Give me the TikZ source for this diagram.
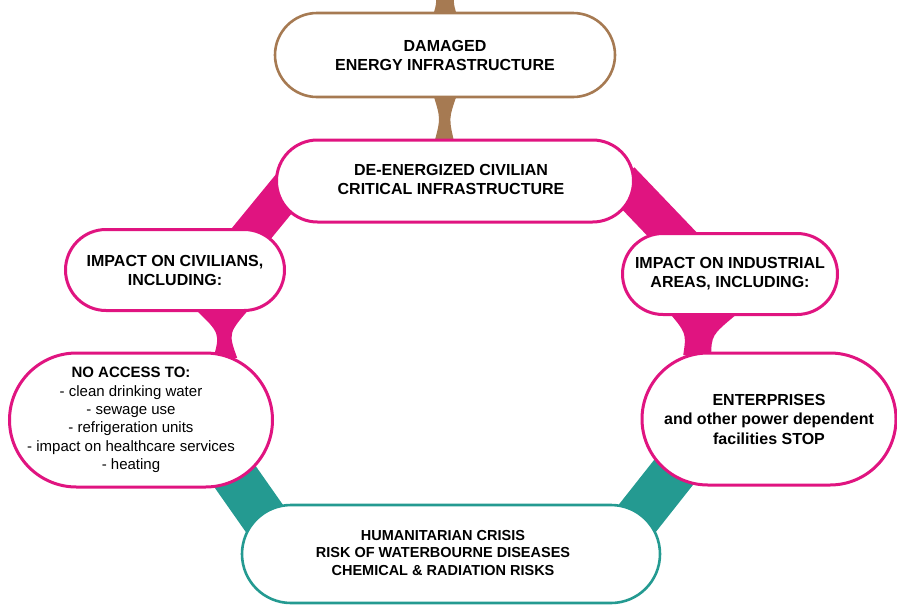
\documentclass[tikz,border=0pt]{standalone}
\usepackage{fontspec}
\setmainfont{Liberation Sans}
\usetikzlibrary{shapes.misc,calc,backgrounds}
\definecolor{pinkline}{RGB}{224,20,128}
\definecolor{brownline}{RGB}{166,122,82}
\definecolor{tealline}{RGB}{36,154,145}
% neck between two border points: colour, from, to, half widths at the ends, bend
\def\neck#1#2#3#4#5#6{%
  \path ($(#2)!-4pt!(#3)$) coordinate (na) ($(#3)!-4pt!(#2)$) coordinate (nb)
        ($(na)!.5!(nb)$) coordinate (nm);
  \fill[#1] ($(na)!#4!90:(nb)$) .. controls ($(nm)!#6!90:(nb)$) .. ($(nb)!#5!-90:(na)$)
     -- ($(nb)!#5!90:(na)$) .. controls ($(nm)!#6!-90:(nb)$) .. ($(na)!#4!-90:(nb)$) -- cycle;}
\tikzset{
  pill/.style={rounded rectangle, draw=pinkline, line width=3pt, fill=white,
    align=center, inner sep=0pt, font=\bfseries\fontsize{16}{19}\selectfont},
  brownpill/.style={pill, draw=brownline, line width=2.6pt},
  tealpill/.style={pill, draw=tealline, line width=2.6pt,
    font=\bfseries\fontsize{14.5}{17.5}\selectfont},
  band/.style={line width=#1}
}
\begin{document}
\begin{tikzpicture}[x=1pt,y=-1pt]
\useasboundingbox (0,0) rectangle (897,606);
\node[brownpill, minimum width=340pt, minimum height=84pt] (damaged) at (445,55)
  {DAMAGED\\ENERGY INFRASTRUCTURE};
\node[pill, minimum width=357pt, minimum height=82pt] (deenergized) at (455,181)
  {\hspace*{-8pt}\begin{tabular}{@{}c@{}}DE-ENERGIZED CIVILIAN\\CRITICAL INFRASTRUCTURE\end{tabular}};
\node[pill, minimum width=219pt, minimum height=81pt] (civilians) at (175,270)
  {IMPACT ON CIVILIANS,\\INCLUDING:};
\node[pill, minimum width=215pt, minimum height=81pt] (industrial) at (730,274)
  {IMPACT ON INDUSTRIAL\\AREAS, INCLUDING:};
\node[pill, minimum width=263pt, minimum height=134pt,
  font=\fontsize{15}{18.3}\selectfont] (noaccess) at (141,420)
  {\hspace*{-20pt}\begin{tabular}{@{}c@{}}\bfseries NO ACCESS TO:\\- clean drinking water\\
   - sewage use\\- refrigeration units\\- impact on healthcare services\\- heating\end{tabular}};
\node[pill, minimum width=254pt, minimum height=132pt,
  font=\bfseries\fontsize{16}{19.5}\selectfont] (enterprises) at (769,419)
  {ENTERPRISES\\and other power dependent\\facilities STOP};
\node[tealpill, minimum width=418pt, minimum height=98pt] (crisis) at (451,554)
  {\hspace*{-16pt}\begin{tabular}{@{}c@{}}HUMANITARIAN CRISIS\\RISK OF WATERBOURNE DISEASES\\
   CHEMICAL \& RADIATION RISKS\end{tabular}};
\coordinate (feed) at (445,-8);

\begin{pgfonlayer}{background}
  \neck{brownline}{damaged.90}{feed}{12pt}{11pt}{8pt}
  \neck{brownline}{damaged.270}{deenergized.104}{12pt}{10pt}{4pt}
  \neck{pinkline}{civilians.319}{noaccess.38}{28pt}{12pt}{4pt}
  \neck{pinkline}{industrial.235}{enterprises.137}{35pt}{14pt}{12.5pt}
  \draw[pinkline, band=37pt, shorten <=-18pt, shorten >=-18pt]
    (deenergized.186) -- (civilians.27);
  \draw[pinkline, band=38pt, shorten <=-18pt, shorten >=-32pt]
    (deenergized.356) -- (industrial.145);
  \draw[tealline, band=46pt, shorten <=-12pt, shorten >=-12pt]
    (noaccess.328) -- (crisis.168);
  \draw[tealline, band=46pt, shorten <=-12pt, shorten >=-12pt]
    (enterprises.210) -- (crisis.12);
\end{pgfonlayer}
\end{tikzpicture}
\end{document}
